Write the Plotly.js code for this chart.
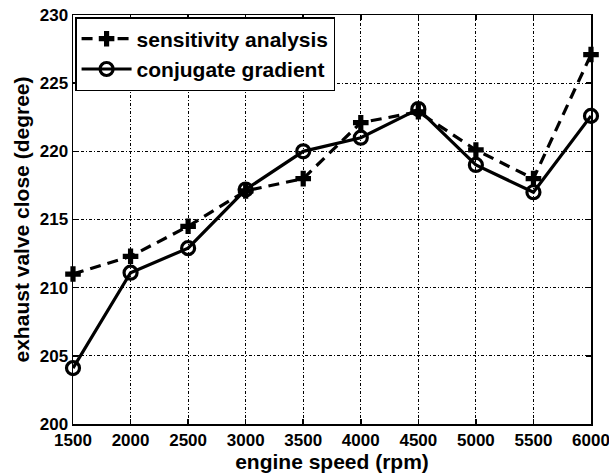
<!DOCTYPE html>
<html>
<head>
<meta charset="utf-8">
<script src="https://cdn.plot.ly/plotly-3.0.1.min.js"></script>
<style>html,body{margin:0;padding:0;background:#fff;}#plot{width:609px;height:476px;}</style>
</head>
<body>
<div id="plot"></div>
<script>
const engineSpeed = [1500, 2000, 2500, 3000, 3500, 4000, 4500, 5000, 5500, 6000];
const sensitivityAnalysis = [211, 212.3, 214.5, 217.1, 218, 222.1, 222.9, 220.1, 218, 227.1];
const conjugateGradient = [204.1, 211.1, 212.9, 217.2, 220, 221, 223.1, 219, 217, 222.6];
const xTicks = [1500, 2000, 2500, 3000, 3500, 4000, 4500, 5000, 5500, 6000];
const yTicks = [200, 205, 210, 215, 220, 225, 230];

const fontFam = '"Liberation Sans", Arial, sans-serif';

const traces = [
  {
    x: engineSpeed, y: sensitivityAnalysis, name: 'sensitivity analysis',
    type: 'scatter', mode: 'lines+markers', cliponaxis: false,
    line: {color: '#000', width: 3.2, dash: '11px,7px'},
    marker: {symbol: 'cross', size: 13, color: '#000'}
  },
  {
    x: engineSpeed, y: conjugateGradient, name: 'conjugate gradient',
    type: 'scatter', mode: 'lines+markers', cliponaxis: false,
    line: {color: '#000', width: 3.2},
    marker: {symbol: 'circle-open', size: 13, color: '#000', line: {width: 3.2, color: '#000'}}
  }
];

const axisCommon = {
  showline: true, linecolor: '#000', linewidth: 1.5, mirror: 'ticks',
  ticks: 'inside', ticklen: 5, tickwidth: 1.5, tickcolor: '#000',
  showgrid: true, gridcolor: '#000', gridwidth: 1, griddash: '3px,2px,1px,2px',
  zeroline: false,
  tickfont: {family: fontFam, size: 17, color: '#000', weight: 'bold'}
};

const layout = {
  width: 609, height: 476,
  margin: {l: 73, r: 18, t: 15, b: 52},
  paper_bgcolor: '#fff', plot_bgcolor: '#fff',
  showlegend: true,
  legend: {
    x: 0.004, y: 0.995, xanchor: 'left', yanchor: 'top',
    bgcolor: '#fff', bordercolor: '#000', borderwidth: 1.5,
    font: {family: fontFam, size: 21, color: '#000', weight: 'bold'},
    tracegroupgap: 0, itemwidth: 50
  },
  xaxis: Object.assign({}, axisCommon, {
    range: [1500, 6000], tickmode: 'array', tickvals: xTicks, ticktext: xTicks.map(String),
    ticklabeloverflow: 'allow',
    title: {text: 'engine speed (rpm)', standoff: 2, font: {family: fontFam, size: 21, color: '#000', weight: 'bold'}}
  }),
  yaxis: Object.assign({}, axisCommon, {
    range: [200, 230], tickmode: 'array', tickvals: yTicks, ticktext: yTicks.map(String),
    ticklabelstandoff: 0,
    title: {text: 'exhaust valve close (degree)', standoff: 4, font: {family: fontFam, size: 21, color: '#000', weight: 'bold'}}
  })
};

Plotly.newPlot('plot', traces, layout, {staticPlot: true, displayModeBar: false});
</script>
</body>
</html>
